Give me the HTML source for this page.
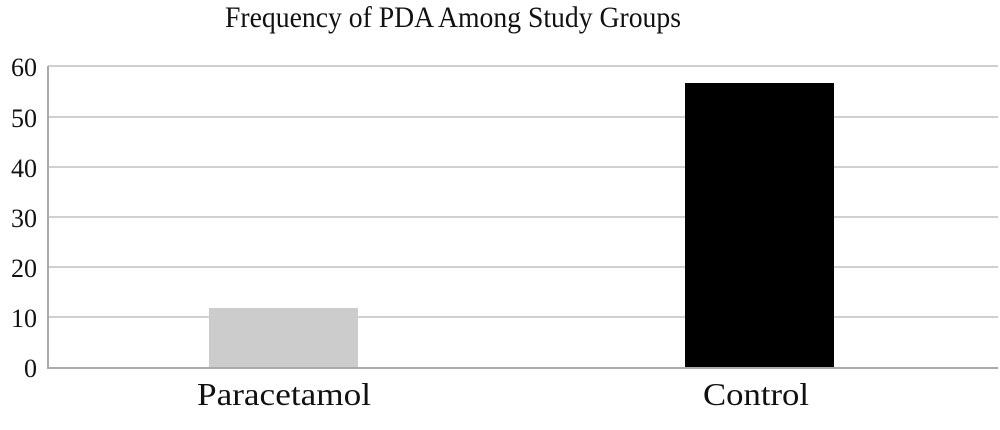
<!DOCTYPE html>
<html><head><meta charset="utf-8"><style>body{margin:0;background:#fff}svg{display:block}</style></head>
<body>
<svg width="1000" height="430" viewBox="0 0 1000 430" xmlns="http://www.w3.org/2000/svg" font-family="Liberation Serif, serif" fill="#111">
<text x="453" y="27" font-size="30" text-anchor="middle" textLength="456" lengthAdjust="spacingAndGlyphs">Frequency of PDA Among Study Groups</text>
<g stroke="#d0d0d0" stroke-width="2">
<line x1="48" y1="66" x2="998" y2="66"/>
<line x1="48" y1="117" x2="998" y2="117"/>
<line x1="48" y1="167" x2="998" y2="167"/>
<line x1="48" y1="217" x2="998" y2="217"/>
<line x1="48" y1="267" x2="998" y2="267"/>
<line x1="48" y1="317" x2="998" y2="317"/>
</g>
<rect x="209" y="308" width="149" height="60" fill="#cccccc"/>
<rect x="685" y="83" width="149" height="285" fill="#000"/>
<line x1="48" y1="66" x2="48" y2="368" stroke="#aaa" stroke-width="2"/>
<line x1="47" y1="368" x2="998" y2="368" stroke="#aaa" stroke-width="2"/>
<g font-size="26" text-anchor="end">
<text x="37" y="76">60</text>
<text x="37" y="127">50</text>
<text x="37" y="177">40</text>
<text x="37" y="227">30</text>
<text x="37" y="277">20</text>
<text x="37" y="327">10</text>
<text x="37" y="377">0</text>
</g>
<text x="197" y="405" font-size="32" textLength="174" lengthAdjust="spacingAndGlyphs">Paracetamol</text>
<text x="703" y="405" font-size="32" textLength="106" lengthAdjust="spacingAndGlyphs">Control</text>
</svg>
</body></html>
